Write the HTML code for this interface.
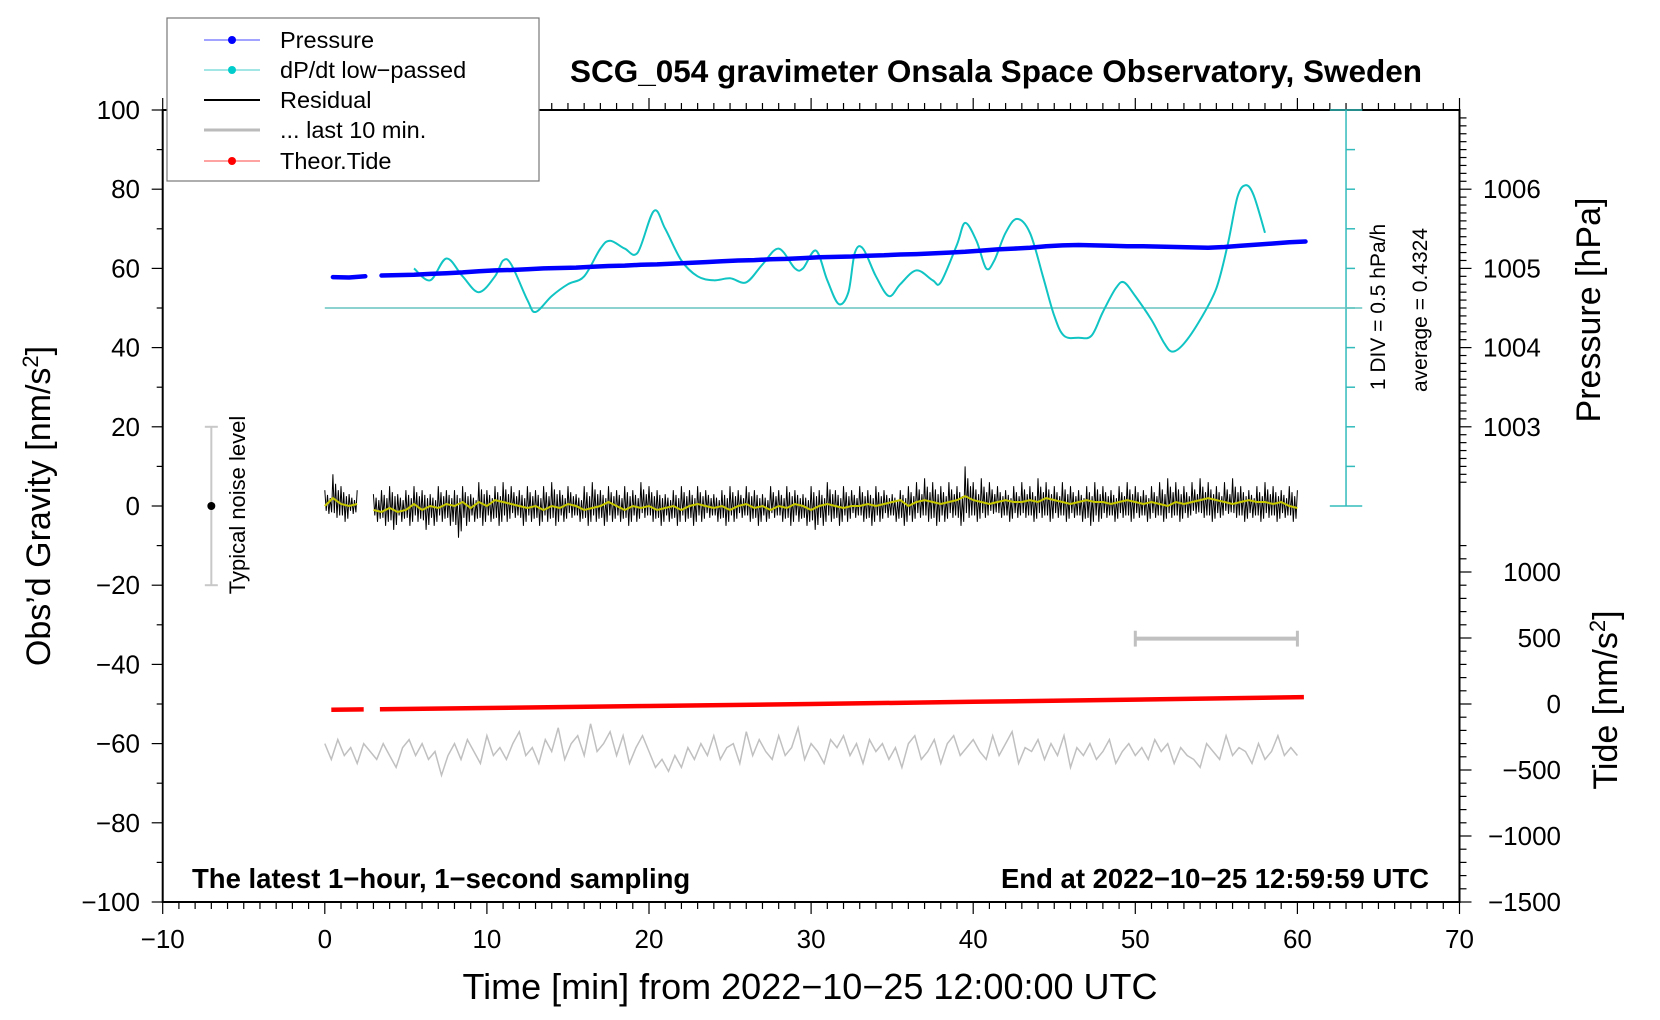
<!DOCTYPE html>
<html><head><meta charset="utf-8"><style>
html,body{margin:0;padding:0;background:#fff;}
svg{display:block;font-family:"Liberation Sans",Arial,sans-serif;}
</style></head><body>
<svg id="chart" width="1660" height="1020" viewBox="0 0 1660 1020">
<g id="axes"></g>
<g id="series"></g>
<text x="996" y="82" text-anchor="middle" font-size="31.5" font-weight="bold">SCG_054 gravimeter Onsala Space Observatory, Sweden</text>
<text x="192" y="888" font-size="27.5" font-weight="bold">The latest 1−hour, 1−second sampling</text>
<text x="1429" y="888" text-anchor="end" font-size="27.5" font-weight="bold">End at 2022−10−25 12:59:59 UTC</text>
<text x="810" y="999" text-anchor="middle" font-size="36">Time [min] from 2022−10−25 12:00:00 UTC</text>
<text transform="translate(50,506) rotate(-90)" text-anchor="middle" font-size="34">Obs’d Gravity [nm/s<tspan dy="-12" font-size="22">2</tspan><tspan dy="12">]</tspan></text>
<text transform="translate(1600,310) rotate(-90)" text-anchor="middle" font-size="34">Pressure [hPa]</text>
<text transform="translate(1617,700) rotate(-90)" text-anchor="middle" font-size="34">Tide [nm/s<tspan dy="-12" font-size="22">2</tspan><tspan dy="12">]</tspan></text>
<text transform="translate(245,505) rotate(-90)" text-anchor="middle" font-size="22">Typical noise level</text>
<text transform="translate(1385,307) rotate(-90)" text-anchor="middle" font-size="21">1 DIV = 0.5 hPa/h</text>
<text transform="translate(1427,310) rotate(-90)" text-anchor="middle" font-size="21">average = 0.4324</text>
<g id="legend">
<rect x="167" y="18" width="372" height="163" fill="#fff" stroke="#777" stroke-width="1.2"/>
<g><line x1="204" y1="40" x2="260" y2="40" stroke="#4444ff" stroke-width="1"/><circle cx="232" cy="40" r="4" fill="#0000ff"/><text x="280" y="48" font-size="23.5">Pressure</text></g>
<g><line x1="204" y1="70" x2="260" y2="70" stroke="#44cccc" stroke-width="1"/><circle cx="232" cy="70" r="4" fill="#00cccc"/><text x="280" y="78" font-size="23.5">dP/dt low−passed</text></g>
<g><line x1="204" y1="100" x2="260" y2="100" stroke="#000" stroke-width="2"/><text x="280" y="108" font-size="23.5">Residual</text></g>
<g><line x1="204" y1="130" x2="260" y2="130" stroke="#bbb" stroke-width="3"/><text x="280" y="138" font-size="23.5">... last 10 min.</text></g>
<g><line x1="204" y1="161" x2="260" y2="161" stroke="#ff4444" stroke-width="1"/><circle cx="232" cy="161" r="4" fill="#ff0000"/><text x="280" y="169" font-size="23.5">Theor.Tide</text></g>
</g>
</svg>
<script>
// ---- data ----
const xTicks = [-10,0,10,20,30,40,50,60,70];
const gravTicks = [100,80,60,40,20,0,-20,-40,-60,-80,-100];
const pressTicks = [1003,1004,1005,1006];
const tideTicks = [1000,500,0,-500,-1000,-1500];

const pressTimesA = [0.5,1.5,2.5];
const pressValsA = [1004.89,1004.885,1004.9];
const pressTimesB = [3.5,4.5,5.5,6.5,7.5,8.5,9.5,10.5,11.5,12.5,13.5,14.5,15.5,16.5,17.5,18.5,19.5,20.5,21.5,22.5,23.5,24.5,25.5,26.5,27.5,28.5,29.5,30.5,31.5,32.5,33.5,34.5,35.5,36.5,37.5,38.5,39.5,40.5,41.5,42.5,43.5,44.5,45.5,46.5,47.5,48.5,49.5,50.5,51.5,52.5,53.5,54.5,55.5,56.5,57.5,58.5,59.5,60.5];
const pressValsB = [1004.91,1004.915,1004.92,1004.93,1004.94,1004.95,1004.965,1004.975,1004.98,1004.99,1005.0,1005.005,1005.01,1005.02,1005.03,1005.035,1005.045,1005.05,1005.06,1005.07,1005.08,1005.09,1005.1,1005.105,1005.115,1005.12,1005.13,1005.14,1005.145,1005.15,1005.16,1005.165,1005.175,1005.18,1005.19,1005.2,1005.21,1005.225,1005.24,1005.25,1005.26,1005.28,1005.29,1005.295,1005.29,1005.285,1005.28,1005.28,1005.275,1005.27,1005.265,1005.26,1005.27,1005.285,1005.3,1005.315,1005.33,1005.34];

const dpdtTimes = [5.5,6.5,7.5,8.5,9.5,10.5,11,11.5,12.5,13,14,15,16,17,17.6,18.5,19.3,20.3,21,22,23,24,25,26,27,28,29,29.5,30.3,31,31.7,32.3,32.7,33.2,34,34.8,35.5,36.5,37.5,38,39,39.5,40.2,40.8,41.3,42,42.7,43.5,44.3,45,45.6,46.5,47.3,48,48.8,49.3,50,51,51.8,52.3,53,54,55,55.7,56.3,56.8,57.3,58];
const dpdtVals = [0.5,0.35,0.625,0.4,0.2,0.4,0.6,0.55,0.1,-0.05,0.15,0.3,0.4,0.75,0.85,0.75,0.7,1.225,1.0,0.6,0.4,0.35,0.375,0.325,0.55,0.75,0.5,0.5,0.725,0.35,0.05,0.2,0.7,0.75,0.4,0.15,0.3,0.475,0.35,0.325,0.8,1.075,0.85,0.5,0.6,0.95,1.125,0.95,0.4,-0.1,-0.35,-0.375,-0.35,-0.05,0.25,0.325,0.15,-0.15,-0.45,-0.55,-0.45,-0.15,0.25,0.8,1.4,1.55,1.425,0.95];

const residMaxA = [4,8,5,3,4];
const residMinA = [-2,-3,-4,-2,-3];
const residSmoothA = [0,2,0.5,0,0.5];
const residMaxB = [3,4,5,3,4,5,4,3,5,4, 4,5,3,6,4,5,6,5,4,5, 4,5,6,4,5,3,5,6,4,5, 4,5,4,6,5,4,3,4,5,4, 5,4,3,4,5,4,5,4,3,5, 4,5,4,3,5,4,6,4,5,4, 5,4,5,4,3,4,5,6,7,6, 5,6,5,10,6,7,6,5,4,5, 6,5,7,6,5,6,5,4,5,6, 5,4,5,6,5,4,5,6,7,6, 5,6,7,6,5,6,7,5,4,5, 6,5,4,5,4];
const residMinB = [-4,-5,-6,-4,-5,-4,-6,-5,-4,-5, -8,-5,-4,-5,-4,-5,-4,-3,-5,-4, -5,-4,-5,-4,-3,-4,-5,-4,-5,-4, -4,-5,-4,-3,-4,-5,-4,-5,-4,-5, -4,-3,-4,-5,-4,-3,-4,-5,-4,-3, -4,-5,-4,-5,-6,-5,-4,-5,-4,-3, -4,-5,-4,-3,-4,-5,-4,-3,-4,-5, -4,-3,-5,-3,-4,-3,-2,-3,-4,-3, -3,-4,-3,-4,-3,-4,-3,-4,-5,-4, -3,-4,-3,-4,-3,-4,-3,-4,-3,-4, -3,-2,-3,-4,-3,-2,-3,-4,-3,-4, -3,-4,-3,-4,-3];
const residSmoothB = [-1,-1.5,-0.5,-1.5,-1,0.5,-1,0,-0.5,0.5, 0,1,-0.5,1,0,1.5,1,0.5,0,-0.5, 0,-1,0,-0.5,0.5,0,-1,-0.5,0,1, 0,-1,0,-0.5,0,-1,-0.5,0,-1,0, 0.5,0,-0.5,0,-1,0,0.5,-0.5,0,-1, 0,-0.5,0.5,0,-1,0,0.5,0,-0.5,0, 0,0.5,0,0.5,1,1.5,0,1,1.5,1, 0.5,1,1.5,2.5,1.5,1,0.5,1,1.5,1, 1,1.5,1,2,1.5,1,0.5,1,1.5,1, 1,0.5,1,1.5,1,0.5,1,0.5,0,1, 0.5,1,1.5,2,1.5,1,0.5,1,1.5,1, 1,0.5,1,0,-0.5];

const last10Vals = [-60,-64,-59,-63,-61,-65,-60,-62,-64,-60,-63,-66,-61,-59,-63,-60,-64,-62,-68,-63,
-60,-64,-59,-62,-65,-58,-63,-61,-64,-60,-57,-63,-61,-65,-59,-62,-56,-64,-60,-58,
-63,-55,-62,-60,-57,-63,-58,-65,-61,-58,-62,-66,-64,-67,-63,-66,-61,-64,-60,-63,
-58,-64,-61,-60,-65,-57,-63,-59,-62,-64,-58,-63,-61,-56,-64,-60,-62,-65,-59,-61,
-58,-63,-60,-65,-59,-62,-60,-64,-61,-66,-60,-58,-64,-62,-59,-65,-60,-58,-63,-61,
-59,-62,-64,-58,-63,-60,-57,-65,-61,-62,-59,-64,-60,-63,-58,-66,-61,-63,-60,-64,
-62,-59,-65,-62,-60,-63,-61,-64,-59,-62,-60,-65,-61,-63,-64,-66,-60,-62,-64,-58,
-63,-61,-62,-65,-60,-64,-62,-58,-63,-61,-63];

const tideTimesA = [0.4,2.4];
const tideValsA = [-44,-41];
const tideTimesB = [3.4,10,20,30,40,50,60.4];
const tideValsB = [-40,-30,-15,0,17,33,52];

// ---- scales ----
const X = t => 162.7 + (t + 10) * 16.21;
const G = g => 506 - g * 3.96;
const P = p => G(60 + (p - 1005) * 20);
const T = v => G(v / 30 - 50);
const D = v => G(50 + v * 20);

const NS = 'http://www.w3.org/2000/svg';
const axes = document.getElementById('axes');
const series = document.getElementById('series');
function mk(tag, attrs, parent) {
  const e = document.createElementNS(NS, tag);
  for (const k in attrs) e.setAttribute(k, attrs[k]);
  parent.appendChild(e);
  return e;
}
const L = X(-10), R = X(70), TOP = G(100), BOT = G(-100);

const frame = mk('rect', {x: L, y: TOP, width: R - L, height: BOT - TOP, fill: 'none', stroke: '#000', 'stroke-width': 2}, axes);



for (let t = -10; t <= 70; t++) {
  const major = t % 10 === 0;
  const len = major ? 12 : 7;
  mk('line', {x1: X(t), y1: BOT, x2: X(t), y2: BOT + len, stroke: '#000', 'stroke-width': 1.2}, axes);
  mk('line', {x1: X(t), y1: TOP, x2: X(t), y2: TOP - len, stroke: '#000', 'stroke-width': 1.2}, axes);
}
xTicks.forEach(t => {
  const tx = mk('text', {x: X(t), y: 948, 'text-anchor': 'middle', 'font-size': 26}, axes);
  tx.textContent = String(t).replace('-', '−');
  
  
});
for (let g = -100; g <= 100; g += 10) {
  const len = g % 20 === 0 ? 11 : 6;
  mk('line', {x1: L, y1: G(g), x2: L - len, y2: G(g), stroke: '#000', 'stroke-width': 1.2}, axes);
}
gravTicks.forEach(g => {
  const tx = mk('text', {x: 140, y: G(g) + 9, 'text-anchor': 'end', 'font-size': 26}, axes);
  tx.textContent = String(g).replace('-', '−');
  
  
});
for (let i = 10023; i <= 10069; i++) {
  const p = i / 10;
  const len = i % 10 === 0 ? 12 : 7;
  mk('line', {x1: R, y1: P(p), x2: R + len, y2: P(p), stroke: '#000', 'stroke-width': 1.2}, axes);
}
pressTicks.forEach(p => {
  const tx = mk('text', {x: 1483, y: P(p) + 9, 'font-size': 26}, axes);
  tx.textContent = p;
  
  
});
for (let v = -1500; v <= 1200; v += 100) {
  const len = v % 500 === 0 ? 12 : 7;
  mk('line', {x1: R, y1: T(v), x2: R + len, y2: T(v), stroke: '#000', 'stroke-width': 1.2}, axes);
}
tideTicks.forEach(v => {
  const tx = mk('text', {x: 1561, y: T(v) + 9, 'text-anchor': 'end', 'font-size': 26}, axes);
  tx.textContent = String(v).replace('-', '−');
  
  
});

const sb = mk('g', {stroke: '#33bbbb', 'stroke-width': 1.5}, series);


mk('line', {x1: X(63), y1: G(0), x2: X(63), y2: G(100)}, sb);
mk('line', {x1: X(62), y1: G(0), x2: X(64), y2: G(0)}, sb);
mk('line', {x1: X(62), y1: G(100), x2: X(64), y2: G(100)}, sb);
for (let g = 10; g < 100; g += 10) mk('line', {x1: X(63), y1: G(g), x2: X(63) + 9, y2: G(g)}, sb);
const base = mk('line', {x1: X(0), y1: D(0), x2: X(64), y2: D(0), stroke: '#66c4c0', 'stroke-width': 1.5}, series);



const nb = mk('g', {stroke: '#c8c8c8', 'stroke-width': 2}, series);


mk('line', {x1: X(-7), y1: G(-20), x2: X(-7), y2: G(20)}, nb);
mk('line', {x1: X(-7.4), y1: G(-20), x2: X(-6.6), y2: G(-20)}, nb);
mk('line', {x1: X(-7.4), y1: G(20), x2: X(-6.6), y2: G(20)}, nb);
mk('circle', {cx: X(-7), cy: G(0), r: 4, fill: '#000', stroke: 'none'}, nb);

const lb = mk('g', {stroke: '#c0c0c0', 'stroke-width': 4}, series);


mk('line', {x1: X(50), y1: G(-33.5), x2: X(60), y2: G(-33.5)}, lb);
mk('line', {x1: X(50), y1: G(-31.5), x2: X(50), y2: G(-35.5), 'stroke-width': 3}, lb);
mk('line', {x1: X(60), y1: G(-31.5), x2: X(60), y2: G(-35.5), 'stroke-width': 3}, lb);

function smoothPath(xs, ys) {
  const pts = xs.map((x, i) => [x, ys[i]]);
  let d = 'M' + pts[0][0].toFixed(1) + ',' + pts[0][1].toFixed(1);
  for (let i = 0; i < pts.length - 1; i++) {
    const p0 = pts[Math.max(0, i - 1)], p1 = pts[i], p2 = pts[i + 1], p3 = pts[Math.min(pts.length - 1, i + 2)];
    const c1 = [p1[0] + (p2[0] - p0[0]) / 6, p1[1] + (p2[1] - p0[1]) / 6];
    const c2 = [p2[0] - (p3[0] - p1[0]) / 6, p2[1] - (p3[1] - p1[1]) / 6];
    d += ' C' + c1.map(v => v.toFixed(1)).join(',') + ' ' + c2.map(v => v.toFixed(1)).join(',') + ' ' + p2.map(v => v.toFixed(1)).join(',');
  }
  return d;
}
function polyPts(xs, ys) { return xs.map((x, i) => x.toFixed(1) + ',' + ys[i].toFixed(1)).join(' '); }

const grayTimes = last10Vals.map((v, i) => i * 0.4);
const gray = mk('polyline', {points: polyPts(grayTimes.map(X), last10Vals.map(G)), fill: 'none', stroke: '#c0c0c0', 'stroke-width': 1.5}, series);



function residual(x0, mx, mn, sm, name) {
  const xs = [], ys = [];
  mx.forEach((v, i) => {
    const t = x0 + i * 0.5;
    const sub = [v, mn[i] * 0.6, v * 0.7, mn[i], v * 0.5, mn[i] * 0.8];
    sub.forEach((s, k) => { if (i < mx.length - 1 || k === 0) { xs.push(X(t + k * 0.5 / 6)); ys.push(G(s)); } });
  });
  const r = mk('polyline', {points: polyPts(xs, ys), fill: 'none', stroke: '#000', 'stroke-width': 1}, series);
  
  
  const ts = sm.map((v, i) => X(x0 + i * 0.5));
  const y = mk('polyline', {points: polyPts(ts, sm.map(G)), fill: 'none', stroke: '#c8c800', 'stroke-width': 2}, series);
  
  
}
residual(0, residMaxA, residMinA, residSmoothA, 'residual-series-a');
residual(3, residMaxB, residMinB, residSmoothB, 'residual-series-b');

[[tideTimesA, tideValsA, 'tide-series-a'], [tideTimesB, tideValsB, 'tide-series-b']].forEach(([ts, vs, nm]) => {
  const l = mk('polyline', {points: polyPts(ts.map(X), vs.map(T)), fill: 'none', stroke: '#ff0000', 'stroke-width': 4.5}, series);
  
  
});

const dp = mk('path', {d: smoothPath(dpdtTimes.map(X), dpdtVals.map(D)), fill: 'none', stroke: '#11c4c4', 'stroke-width': 2}, series);



[[pressTimesA, pressValsA, 'pressure-series-a'], [pressTimesB, pressValsB, 'pressure-series-b']].forEach(([ts, vs, nm]) => {
  const l = mk('polyline', {points: polyPts(ts.map(X), vs.map(P)), fill: 'none', stroke: '#0000ff', 'stroke-width': 4.5, 'stroke-linecap': 'round', 'stroke-linejoin': 'round'}, series);
  
  
});
</script>
</body></html>
